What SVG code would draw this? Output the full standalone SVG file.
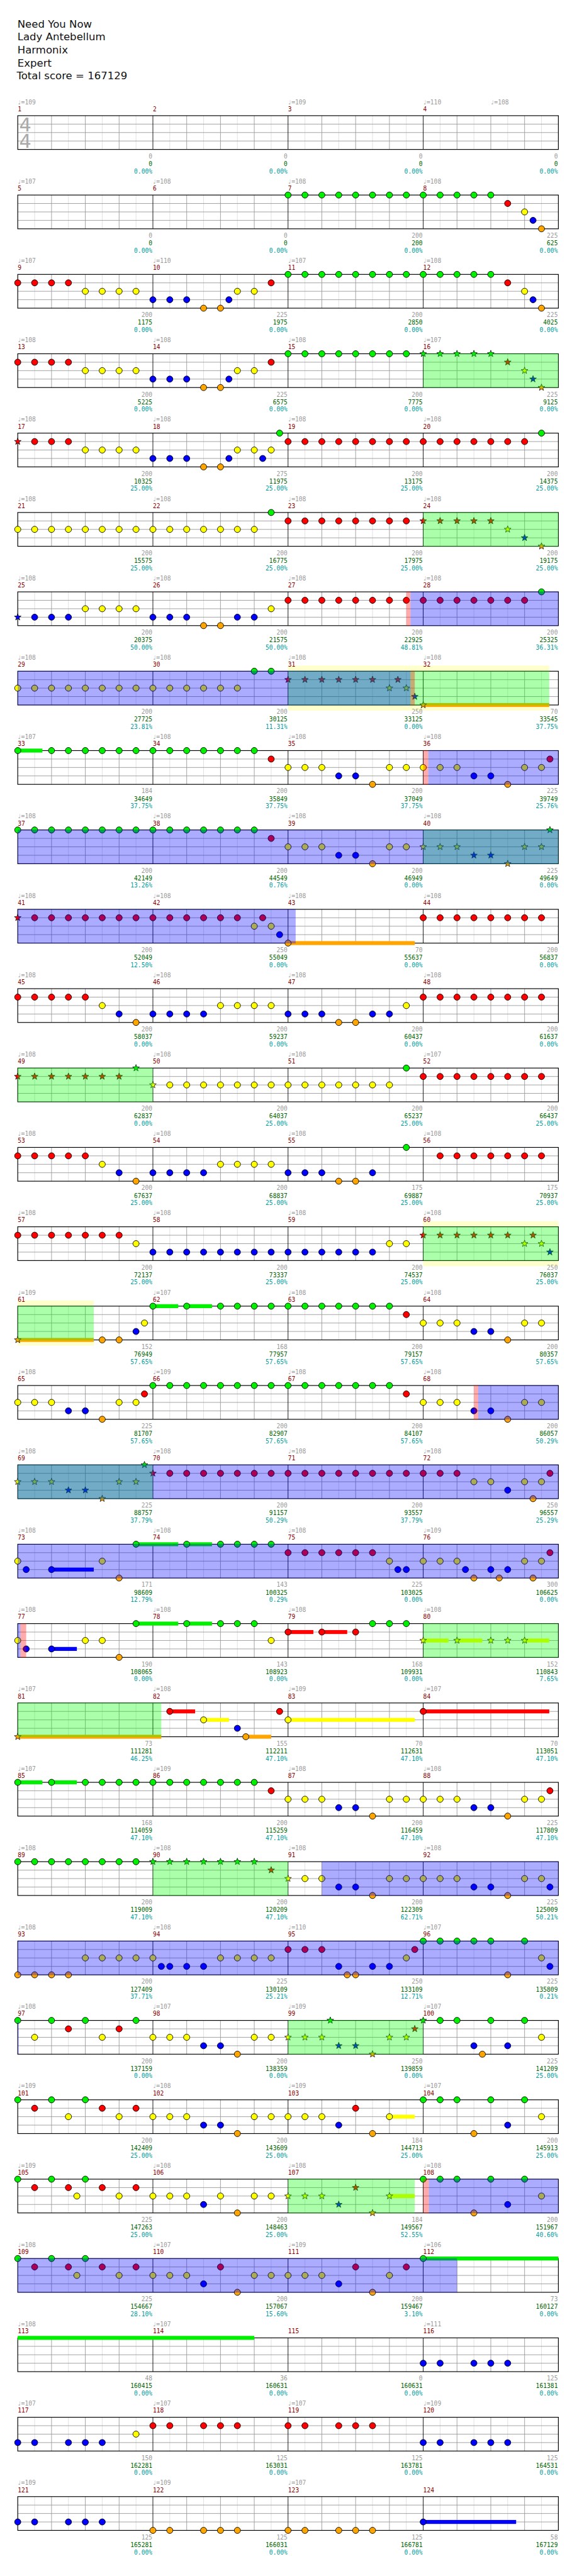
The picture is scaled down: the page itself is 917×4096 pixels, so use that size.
<svg xmlns="http://www.w3.org/2000/svg" width="917" height="4096" viewBox="0 0 917 4096">
<style>
.G{fill:#00f000}.R{fill:#ff0000}.Y{fill:#ffff00}.B{fill:#0000ff}.O{fill:#ffa500}
.nt{stroke:#000;stroke-width:1}.sn{stroke:#000;stroke-width:.8}
.ob{fill:#0000ff;fill-opacity:.33}.og{fill:#00ff00;fill-opacity:.33}.op{fill:#ff0000;fill-opacity:.33}.yb{fill:#ffffcc}
text{font-family:"DejaVu Sans Mono","Liberation Mono",monospace;font-size:10.8px}
.tp{fill:#9a9a9a}.mn{fill:#8b0000}.sg{fill:#9a9a9a;text-anchor:end}.sc{fill:#006400;text-anchor:end}.pc{fill:#009c9c;text-anchor:end}
.ti{font-family:"DejaVu Sans","Liberation Sans",sans-serif;font-size:18.5px;fill:#111}
.ts{font-family:"DejaVu Sans","Liberation Sans",sans-serif;font-size:34px;fill:#aaa}
</style>
<defs>
<g id="staff">
<rect width="960" height="60" fill="#fff"/>
<path d="M30 0V60M90 0V60M150 0V60M210 0V60M270 0V60M330 0V60M390 0V60M450 0V60M510 0V60M570 0V60M630 0V60M690 0V60M750 0V60M810 0V60M870 0V60M930 0V60" stroke="#ddd"/>
<path d="M0 15H960M0 30H960M0 45H960M60 0V60M120 0V60M180 0V60M300 0V60M360 0V60M420 0V60M540 0V60M600 0V60M660 0V60M780 0V60M840 0V60M900 0V60" stroke="#999"/>
<path d="M240 0V60M480 0V60M720 0V60" stroke="#000"/>
<rect width="960" height="60" fill="none" stroke="#000" stroke-width="1.3"/>
</g>
<circle id="g" r="5.5" class="G nt"/>
<circle id="r" cy="15" r="5.5" class="R nt"/>
<circle id="y" cy="30" r="5.5" class="Y nt"/>
<circle id="b" cy="45" r="5.5" class="B nt"/>
<circle id="o" cy="60" r="5.5" class="O nt"/>
<path id="st" d="M0-6.3L1.53-2.1L6-1.95L2.47.8L3.7 5.1L0 2.6L-3.7 5.1L-2.47.8L-6-1.95L-1.53-2.1Z"/>
<use id="sg" href="#st" class="G sn"/>
<use id="sr" href="#st" y="15" class="R sn"/>
<use id="sy" href="#st" y="30" class="Y sn"/>
<use id="sb" href="#st" y="45" class="B sn"/>
<use id="so" href="#st" y="60" class="O sn"/>
</defs>
<g transform="scale(0.895)">
<g id="title">
<text class="ti" x="31" y="49">Need You Now</text>
<text class="ti" x="31" y="72">Lady Antebellum</text>
<text class="ti" x="31" y="95">Harmonix</text>
<text class="ti" x="31" y="118">Expert</text>
<text class="ti" x="29.5" y="141">Total score = 167129</text>
</g>

<g id="row1" transform="translate(31.5,205.5)">
<use href="#staff"/>
<text class="ts" x="2.5" y="27.5">4</text><text class="ts" x="2.5" y="57.5">4</text>
<text class="tp" y="-20.5"><tspan x="-0.5">♩=109</tspan><tspan x="479.5">♩=109</tspan><tspan x="719.5">♩=110</tspan><tspan x="839.5">♩=108</tspan></text>
<text class="mn" y="-8"><tspan x="0">1</tspan><tspan x="240">2</tspan><tspan x="480">3</tspan><tspan x="720">4</tspan></text>
<text class="sg" y="76"><tspan x="239">0</tspan><tspan x="479">0</tspan><tspan x="719">0</tspan><tspan x="959">0</tspan></text>
<text class="sc" y="89.5"><tspan x="239">0</tspan><tspan x="479">0</tspan><tspan x="719">0</tspan><tspan x="959">0</tspan></text>
<text class="pc" y="102.5"><tspan x="239">0.00%</tspan><tspan x="479">0.00%</tspan><tspan x="719">0.00%</tspan><tspan x="959">0.00%</tspan></text>
</g>

<g id="row2" transform="translate(31.5,346.5)">
<use href="#staff"/>
<text class="tp" y="-20.5"><tspan x="-0.5">♩=107</tspan><tspan x="239.5">♩=108</tspan><tspan x="479.5">♩=108</tspan><tspan x="719.5">♩=108</tspan></text>
<text class="mn" y="-8"><tspan x="0">5</tspan><tspan x="240">6</tspan><tspan x="480">7</tspan><tspan x="720">8</tspan></text>
<use href="#g" x="480"/><use href="#g" x="510"/><use href="#g" x="540"/><use href="#g" x="570"/><use href="#g" x="600"/><use href="#g" x="630"/><use href="#g" x="660"/><use href="#g" x="690"/><use href="#g" x="720"/><use href="#g" x="750"/><use href="#g" x="780"/><use href="#g" x="810"/><use href="#g" x="840"/>
<use href="#r" x="870"/><use href="#y" x="900"/><use href="#b" x="915"/><use href="#o" x="930"/>
<text class="sg" y="76"><tspan x="239">0</tspan><tspan x="479">0</tspan><tspan x="719">200</tspan><tspan x="959">225</tspan></text>
<text class="sc" y="89.5"><tspan x="239">0</tspan><tspan x="479">0</tspan><tspan x="719">200</tspan><tspan x="959">625</tspan></text>
<text class="pc" y="102.5"><tspan x="239">0.00%</tspan><tspan x="479">0.00%</tspan><tspan x="719">0.00%</tspan><tspan x="959">0.00%</tspan></text>
</g>

<g id="row3" transform="translate(31.5,487.5)">
<use href="#staff"/>
<text class="tp" y="-20.5"><tspan x="-0.5">♩=107</tspan><tspan x="239.5">♩=110</tspan><tspan x="479.5">♩=107</tspan><tspan x="719.5">♩=108</tspan></text>
<text class="mn" y="-8"><tspan x="0">9</tspan><tspan x="240">10</tspan><tspan x="480">11</tspan><tspan x="720">12</tspan></text>
<use href="#r" x="0"/><use href="#r" x="30"/><use href="#r" x="60"/><use href="#r" x="90"/>
<use href="#y" x="120"/><use href="#y" x="150"/><use href="#y" x="180"/><use href="#y" x="210"/>
<use href="#b" x="240"/><use href="#b" x="270"/><use href="#b" x="300"/><use href="#o" x="330"/><use href="#o" x="360"/><use href="#b" x="375"/>
<use href="#y" x="390"/><use href="#y" x="420"/><use href="#r" x="450"/>
<use href="#g" x="480"/><use href="#g" x="510"/><use href="#g" x="540"/><use href="#g" x="570"/><use href="#g" x="600"/><use href="#g" x="630"/><use href="#g" x="660"/><use href="#g" x="690"/><use href="#g" x="720"/><use href="#g" x="750"/><use href="#g" x="780"/><use href="#g" x="810"/><use href="#g" x="840"/>
<use href="#r" x="870"/><use href="#y" x="900"/><use href="#b" x="915"/><use href="#o" x="930"/>
<text class="sg" y="76"><tspan x="239">200</tspan><tspan x="479">225</tspan><tspan x="719">200</tspan><tspan x="959">225</tspan></text>
<text class="sc" y="89.5"><tspan x="239">1175</tspan><tspan x="479">1975</tspan><tspan x="719">2850</tspan><tspan x="959">4025</tspan></text>
<text class="pc" y="102.5"><tspan x="239">0.00%</tspan><tspan x="479">0.00%</tspan><tspan x="719">0.00%</tspan><tspan x="959">0.00%</tspan></text>
</g>

<g id="row4" transform="translate(31.5,628.5)">
<use href="#staff"/>
<text class="tp" y="-20.5"><tspan x="-0.5">♩=108</tspan><tspan x="239.5">♩=108</tspan><tspan x="479.5">♩=108</tspan><tspan x="719.5">♩=107</tspan></text>
<text class="mn" y="-8"><tspan x="0">13</tspan><tspan x="240">14</tspan><tspan x="480">15</tspan><tspan x="720">16</tspan></text>
<use href="#r" x="0"/><use href="#r" x="30"/><use href="#r" x="60"/><use href="#r" x="90"/>
<use href="#y" x="120"/><use href="#y" x="150"/><use href="#y" x="180"/><use href="#y" x="210"/>
<use href="#b" x="240"/><use href="#b" x="270"/><use href="#b" x="300"/><use href="#o" x="330"/><use href="#o" x="360"/><use href="#b" x="375"/>
<use href="#y" x="390"/><use href="#y" x="420"/><use href="#r" x="450"/>
<use href="#g" x="480"/><use href="#g" x="510"/><use href="#g" x="540"/><use href="#g" x="570"/><use href="#g" x="600"/><use href="#g" x="630"/><use href="#g" x="660"/><use href="#g" x="690"/>
<use href="#sg" x="720"/><use href="#sg" x="750"/><use href="#sg" x="780"/><use href="#sg" x="810"/><use href="#sg" x="840"/>
<use href="#sr" x="870"/><use href="#sy" x="900"/><use href="#sb" x="915"/><use href="#so" x="930"/>
<rect class="og" x="720" y="-0.5" width="240" height="61"/>
<text class="sg" y="76"><tspan x="239">200</tspan><tspan x="479">225</tspan><tspan x="719">200</tspan><tspan x="959">225</tspan></text>
<text class="sc" y="89.5"><tspan x="239">5225</tspan><tspan x="479">6575</tspan><tspan x="719">7775</tspan><tspan x="959">9125</tspan></text>
<text class="pc" y="102.5"><tspan x="239">0.00%</tspan><tspan x="479">0.00%</tspan><tspan x="719">0.00%</tspan><tspan x="959">0.00%</tspan></text>
</g>

<g id="row5" transform="translate(31.5,769.5)">
<use href="#staff"/>
<text class="tp" y="-20.5"><tspan x="-0.5">♩=108</tspan><tspan x="239.5">♩=108</tspan><tspan x="479.5">♩=108</tspan><tspan x="719.5">♩=108</tspan></text>
<text class="mn" y="-8"><tspan x="0">17</tspan><tspan x="240">18</tspan><tspan x="480">19</tspan><tspan x="720">20</tspan></text>
<use href="#sr" x="0"/><use href="#r" x="30"/><use href="#r" x="60"/><use href="#r" x="90"/>
<use href="#y" x="120"/><use href="#y" x="150"/><use href="#y" x="180"/><use href="#y" x="210"/>
<use href="#b" x="240"/><use href="#b" x="270"/><use href="#b" x="300"/><use href="#o" x="330"/><use href="#o" x="360"/><use href="#b" x="375"/>
<use href="#y" x="390"/><use href="#y" x="420"/><use href="#b" x="435"/><use href="#y" x="450"/><use href="#g" x="465"/>
<use href="#r" x="480"/><use href="#r" x="510"/><use href="#r" x="540"/><use href="#r" x="570"/><use href="#r" x="600"/><use href="#r" x="630"/><use href="#r" x="660"/><use href="#r" x="690"/><use href="#r" x="720"/><use href="#r" x="750"/><use href="#r" x="780"/><use href="#r" x="810"/><use href="#r" x="840"/><use href="#r" x="870"/><use href="#r" x="900"/>
<use href="#g" x="930"/>
<text class="sg" y="76"><tspan x="239">200</tspan><tspan x="479">275</tspan><tspan x="719">200</tspan><tspan x="959">200</tspan></text>
<text class="sc" y="89.5"><tspan x="239">10325</tspan><tspan x="479">11975</tspan><tspan x="719">13175</tspan><tspan x="959">14375</tspan></text>
<text class="pc" y="102.5"><tspan x="239">25.00%</tspan><tspan x="479">25.00%</tspan><tspan x="719">25.00%</tspan><tspan x="959">25.00%</tspan></text>
</g>

<g id="row6" transform="translate(31.5,910.5)">
<use href="#staff"/>
<text class="tp" y="-20.5"><tspan x="-0.5">♩=108</tspan><tspan x="239.5">♩=108</tspan><tspan x="479.5">♩=108</tspan><tspan x="719.5">♩=108</tspan></text>
<text class="mn" y="-8"><tspan x="0">21</tspan><tspan x="240">22</tspan><tspan x="480">23</tspan><tspan x="720">24</tspan></text>
<use href="#y" x="0"/><use href="#y" x="30"/><use href="#y" x="60"/><use href="#y" x="90"/><use href="#y" x="120"/><use href="#y" x="150"/><use href="#y" x="180"/><use href="#y" x="210"/><use href="#y" x="240"/><use href="#y" x="270"/><use href="#y" x="300"/><use href="#y" x="330"/><use href="#y" x="360"/><use href="#y" x="390"/><use href="#y" x="420"/>
<use href="#g" x="450"/>
<use href="#r" x="480"/><use href="#r" x="510"/><use href="#r" x="540"/><use href="#r" x="570"/><use href="#r" x="600"/><use href="#r" x="630"/><use href="#r" x="660"/><use href="#r" x="690"/>
<use href="#sr" x="720"/><use href="#sr" x="750"/><use href="#sr" x="780"/><use href="#sr" x="810"/><use href="#sr" x="840"/>
<use href="#sy" x="870"/><use href="#sb" x="900"/><use href="#so" x="930"/>
<rect class="og" x="720" y="-0.5" width="240" height="61"/>
<text class="sg" y="76"><tspan x="239">200</tspan><tspan x="479">200</tspan><tspan x="719">200</tspan><tspan x="959">200</tspan></text>
<text class="sc" y="89.5"><tspan x="239">15575</tspan><tspan x="479">16775</tspan><tspan x="719">17975</tspan><tspan x="959">19175</tspan></text>
<text class="pc" y="102.5"><tspan x="239">25.00%</tspan><tspan x="479">25.00%</tspan><tspan x="719">25.00%</tspan><tspan x="959">25.00%</tspan></text>
</g>

<g id="row7" transform="translate(31.5,1051.5)">
<use href="#staff"/>
<text class="tp" y="-20.5"><tspan x="-0.5">♩=108</tspan><tspan x="239.5">♩=108</tspan><tspan x="479.5">♩=108</tspan><tspan x="719.5">♩=108</tspan></text>
<text class="mn" y="-8"><tspan x="0">25</tspan><tspan x="240">26</tspan><tspan x="480">27</tspan><tspan x="720">28</tspan></text>
<use href="#sb" x="0"/><use href="#b" x="30"/><use href="#b" x="60"/><use href="#b" x="90"/>
<use href="#y" x="120"/><use href="#y" x="150"/><use href="#y" x="180"/><use href="#y" x="210"/>
<use href="#b" x="240"/><use href="#b" x="270"/><use href="#b" x="300"/><use href="#o" x="330"/><use href="#o" x="360"/><use href="#b" x="390"/><use href="#b" x="420"/><use href="#y" x="450"/>
<use href="#r" x="480"/><use href="#r" x="510"/><use href="#r" x="540"/><use href="#r" x="570"/><use href="#r" x="600"/><use href="#r" x="630"/><use href="#r" x="660"/><use href="#r" x="690"/><use href="#r" x="720"/><use href="#r" x="750"/><use href="#r" x="780"/><use href="#r" x="810"/><use href="#r" x="840"/><use href="#r" x="870"/><use href="#r" x="900"/>
<use href="#g" x="930"/>
<rect class="op" x="690" y="-0.5" width="7.5" height="61"/>
<rect class="ob" x="697.5" y="-0.5" width="262.5" height="61"/>
<text class="sg" y="76"><tspan x="239">200</tspan><tspan x="479">200</tspan><tspan x="719">200</tspan><tspan x="959">200</tspan></text>
<text class="sc" y="89.5"><tspan x="239">20375</tspan><tspan x="479">21575</tspan><tspan x="719">22925</tspan><tspan x="959">25325</tspan></text>
<text class="pc" y="102.5"><tspan x="239">50.00%</tspan><tspan x="479">50.00%</tspan><tspan x="719">48.81%</tspan><tspan x="959">36.31%</tspan></text>
</g>

<g id="row8" transform="translate(31.5,1192.5)">
<rect class="yb" x="480" y="-10" width="463.8" height="80"/>
<use href="#staff"/>
<text class="tp" y="-20.5"><tspan x="-0.5">♩=108</tspan><tspan x="239.5">♩=108</tspan><tspan x="479.5">♩=108</tspan><tspan x="719.5">♩=108</tspan></text>
<text class="mn" y="-8"><tspan x="0">29</tspan><tspan x="240">30</tspan><tspan x="480">31</tspan><tspan x="720">32</tspan></text>
<rect class="O" x="720" y="56.5" width="223.8" height="7"/>
<use href="#y" x="0"/><use href="#y" x="30"/><use href="#y" x="60"/><use href="#y" x="90"/><use href="#y" x="120"/><use href="#y" x="150"/><use href="#y" x="180"/><use href="#y" x="210"/><use href="#y" x="240"/><use href="#y" x="270"/><use href="#y" x="300"/><use href="#y" x="330"/><use href="#y" x="360"/><use href="#y" x="390"/>
<use href="#g" x="420"/><use href="#g" x="450"/>
<use href="#sr" x="480"/><use href="#sr" x="510"/><use href="#sr" x="540"/><use href="#sr" x="570"/><use href="#sr" x="600"/><use href="#sr" x="630"/>
<use href="#sy" x="660"/><use href="#sr" x="675"/><use href="#sy" x="690"/><use href="#sb" x="705"/><use href="#so" x="720"/>
<rect class="og" x="480" y="-0.5" width="463.8" height="61"/>
<rect class="ob" x="0" y="-0.5" width="697.5" height="61"/>
<rect class="op" x="697.5" y="-0.5" width="7.5" height="61"/>
<text class="sg" y="76"><tspan x="239">200</tspan><tspan x="479">200</tspan><tspan x="719">250</tspan><tspan x="959">70</tspan></text>
<text class="sc" y="89.5"><tspan x="239">27725</tspan><tspan x="479">30125</tspan><tspan x="719">33125</tspan><tspan x="959">33545</tspan></text>
<text class="pc" y="102.5"><tspan x="239">23.81%</tspan><tspan x="479">11.31%</tspan><tspan x="719">0.00%</tspan><tspan x="959">37.75%</tspan></text>
</g>

<g id="row9" transform="translate(31.5,1333.5)">
<use href="#staff"/>
<text class="tp" y="-20.5"><tspan x="-0.5">♩=107</tspan><tspan x="239.5">♩=108</tspan><tspan x="479.5">♩=108</tspan><tspan x="719.5">♩=108</tspan></text>
<text class="mn" y="-8"><tspan x="0">33</tspan><tspan x="240">34</tspan><tspan x="480">35</tspan><tspan x="720">36</tspan></text>
<rect class="G" x="0" y="-3.5" width="43.8" height="7"/>
<use href="#g" x="0"/><use href="#g" x="60"/><use href="#g" x="90"/><use href="#g" x="120"/><use href="#g" x="150"/><use href="#g" x="180"/><use href="#g" x="210"/><use href="#g" x="240"/><use href="#g" x="270"/><use href="#g" x="300"/><use href="#g" x="330"/><use href="#g" x="360"/><use href="#g" x="390"/><use href="#g" x="420"/>
<use href="#r" x="450"/><use href="#y" x="480"/><use href="#y" x="510"/><use href="#y" x="540"/><use href="#b" x="570"/><use href="#b" x="600"/><use href="#o" x="630"/><use href="#y" x="660"/><use href="#y" x="690"/><use href="#y" x="720"/>
<use href="#y" x="750"/><use href="#y" x="780"/><use href="#b" x="810"/><use href="#b" x="840"/><use href="#o" x="870"/><use href="#y" x="900"/><use href="#y" x="930"/><use href="#r" x="945"/>
<rect class="op" x="720" y="-0.5" width="9" height="61"/>
<rect class="ob" x="729" y="-0.5" width="231" height="61"/>
<text class="sg" y="76"><tspan x="239">184</tspan><tspan x="479">200</tspan><tspan x="719">200</tspan><tspan x="959">225</tspan></text>
<text class="sc" y="89.5"><tspan x="239">34649</tspan><tspan x="479">35849</tspan><tspan x="719">37049</tspan><tspan x="959">39749</tspan></text>
<text class="pc" y="102.5"><tspan x="239">37.75%</tspan><tspan x="479">37.75%</tspan><tspan x="719">37.75%</tspan><tspan x="959">25.76%</tspan></text>
</g>

<g id="row10" transform="translate(31.5,1474.5)">
<use href="#staff"/>
<text class="tp" y="-20.5"><tspan x="-0.5">♩=108</tspan><tspan x="239.5">♩=108</tspan><tspan x="479.5">♩=108</tspan><tspan x="719.5">♩=108</tspan></text>
<text class="mn" y="-8"><tspan x="0">37</tspan><tspan x="240">38</tspan><tspan x="480">39</tspan><tspan x="720">40</tspan></text>
<use href="#g" x="0"/><use href="#g" x="30"/><use href="#g" x="60"/><use href="#g" x="90"/><use href="#g" x="120"/><use href="#g" x="150"/><use href="#g" x="180"/><use href="#g" x="210"/><use href="#g" x="240"/><use href="#g" x="270"/><use href="#g" x="300"/><use href="#g" x="330"/><use href="#g" x="360"/><use href="#g" x="390"/><use href="#g" x="420"/>
<use href="#r" x="450"/><use href="#y" x="480"/><use href="#y" x="510"/><use href="#y" x="540"/><use href="#b" x="570"/><use href="#b" x="600"/><use href="#o" x="630"/><use href="#y" x="660"/><use href="#y" x="690"/>
<use href="#sy" x="720"/><use href="#sy" x="750"/><use href="#sy" x="780"/><use href="#sb" x="810"/><use href="#sb" x="840"/><use href="#so" x="870"/><use href="#sy" x="900"/><use href="#sy" x="930"/><use href="#sg" x="945"/>
<rect class="og" x="720" y="-0.5" width="240" height="61"/>
<rect class="ob" x="0" y="-0.5" width="960" height="61"/>
<text class="sg" y="76"><tspan x="239">200</tspan><tspan x="479">200</tspan><tspan x="719">200</tspan><tspan x="959">225</tspan></text>
<text class="sc" y="89.5"><tspan x="239">42149</tspan><tspan x="479">44549</tspan><tspan x="719">46949</tspan><tspan x="959">49649</tspan></text>
<text class="pc" y="102.5"><tspan x="239">13.26%</tspan><tspan x="479">0.76%</tspan><tspan x="719">0.00%</tspan><tspan x="959">0.00%</tspan></text>
</g>

<g id="row11" transform="translate(31.5,1615.5)">
<use href="#staff"/>
<text class="tp" y="-20.5"><tspan x="-0.5">♩=108</tspan><tspan x="239.5">♩=108</tspan><tspan x="479.5">♩=108</tspan><tspan x="719.5">♩=108</tspan></text>
<text class="mn" y="-8"><tspan x="0">41</tspan><tspan x="240">42</tspan><tspan x="480">43</tspan><tspan x="720">44</tspan></text>
<rect class="O" x="480" y="56.5" width="225" height="7"/>
<use href="#sr" x="0"/><use href="#r" x="30"/><use href="#r" x="60"/><use href="#r" x="90"/><use href="#r" x="120"/><use href="#r" x="150"/><use href="#r" x="180"/><use href="#r" x="210"/><use href="#r" x="240"/><use href="#r" x="270"/><use href="#r" x="300"/><use href="#r" x="330"/><use href="#r" x="360"/><use href="#r" x="390"/>
<use href="#y" x="420"/><use href="#r" x="435"/><use href="#y" x="450"/><use href="#b" x="465"/><use href="#o" x="480"/>
<use href="#r" x="720"/><use href="#r" x="750"/><use href="#r" x="780"/><use href="#r" x="810"/><use href="#r" x="840"/><use href="#r" x="870"/><use href="#r" x="900"/><use href="#r" x="930"/>
<rect class="ob" x="0" y="-0.5" width="493.5" height="61"/>
<text class="sg" y="76"><tspan x="239">200</tspan><tspan x="479">250</tspan><tspan x="719">70</tspan><tspan x="959">200</tspan></text>
<text class="sc" y="89.5"><tspan x="239">52049</tspan><tspan x="479">55049</tspan><tspan x="719">55637</tspan><tspan x="959">56837</tspan></text>
<text class="pc" y="102.5"><tspan x="239">12.50%</tspan><tspan x="479">0.00%</tspan><tspan x="719">0.00%</tspan><tspan x="959">0.00%</tspan></text>
</g>

<g id="row12" transform="translate(31.5,1756.5)">
<use href="#staff"/>
<text class="tp" y="-20.5"><tspan x="-0.5">♩=108</tspan><tspan x="239.5">♩=108</tspan><tspan x="479.5">♩=108</tspan><tspan x="719.5">♩=108</tspan></text>
<text class="mn" y="-8"><tspan x="0">45</tspan><tspan x="240">46</tspan><tspan x="480">47</tspan><tspan x="720">48</tspan></text>
<use href="#r" x="0"/><use href="#r" x="30"/><use href="#r" x="60"/><use href="#r" x="90"/><use href="#r" x="120"/><use href="#y" x="150"/><use href="#b" x="180"/><use href="#o" x="210"/>
<use href="#b" x="240"/><use href="#b" x="270"/><use href="#b" x="300"/><use href="#b" x="330"/><use href="#y" x="360"/><use href="#y" x="390"/><use href="#y" x="420"/><use href="#y" x="450"/>
<use href="#b" x="480"/><use href="#b" x="510"/><use href="#b" x="540"/><use href="#o" x="570"/><use href="#o" x="600"/><use href="#b" x="630"/><use href="#b" x="660"/><use href="#y" x="690"/>
<use href="#r" x="720"/><use href="#r" x="750"/><use href="#r" x="780"/><use href="#r" x="810"/><use href="#r" x="840"/><use href="#r" x="870"/><use href="#r" x="900"/><use href="#r" x="930"/>
<text class="sg" y="76"><tspan x="239">200</tspan><tspan x="479">200</tspan><tspan x="719">200</tspan><tspan x="959">200</tspan></text>
<text class="sc" y="89.5"><tspan x="239">58037</tspan><tspan x="479">59237</tspan><tspan x="719">60437</tspan><tspan x="959">61637</tspan></text>
<text class="pc" y="102.5"><tspan x="239">0.00%</tspan><tspan x="479">0.00%</tspan><tspan x="719">0.00%</tspan><tspan x="959">0.00%</tspan></text>
</g>

<g id="row13" transform="translate(31.5,1897.5)">
<use href="#staff"/>
<text class="tp" y="-20.5"><tspan x="-0.5">♩=108</tspan><tspan x="239.5">♩=108</tspan><tspan x="479.5">♩=108</tspan><tspan x="719.5">♩=107</tspan></text>
<text class="mn" y="-8"><tspan x="0">49</tspan><tspan x="240">50</tspan><tspan x="480">51</tspan><tspan x="720">52</tspan></text>
<use href="#sr" x="0"/><use href="#sr" x="30"/><use href="#sr" x="60"/><use href="#sr" x="90"/><use href="#sr" x="120"/><use href="#sr" x="150"/><use href="#sr" x="180"/><use href="#sg" x="210"/><use href="#sy" x="240"/>
<use href="#y" x="270"/><use href="#y" x="300"/><use href="#y" x="330"/><use href="#y" x="360"/><use href="#y" x="390"/><use href="#y" x="420"/><use href="#y" x="450"/><use href="#y" x="480"/><use href="#y" x="510"/><use href="#y" x="540"/><use href="#y" x="570"/><use href="#y" x="600"/><use href="#y" x="630"/><use href="#y" x="660"/>
<use href="#g" x="690"/>
<use href="#r" x="720"/><use href="#r" x="750"/><use href="#r" x="780"/><use href="#r" x="810"/><use href="#r" x="840"/><use href="#r" x="870"/><use href="#r" x="900"/><use href="#r" x="930"/>
<rect class="og" x="0" y="-0.5" width="240" height="61"/>
<text class="sg" y="76"><tspan x="239">200</tspan><tspan x="479">200</tspan><tspan x="719">200</tspan><tspan x="959">200</tspan></text>
<text class="sc" y="89.5"><tspan x="239">62837</tspan><tspan x="479">64037</tspan><tspan x="719">65237</tspan><tspan x="959">66437</tspan></text>
<text class="pc" y="102.5"><tspan x="239">0.00%</tspan><tspan x="479">25.00%</tspan><tspan x="719">25.00%</tspan><tspan x="959">25.00%</tspan></text>
</g>

<g id="row14" transform="translate(31.5,2038.5)">
<use href="#staff"/>
<text class="tp" y="-20.5"><tspan x="-0.5">♩=108</tspan><tspan x="239.5">♩=108</tspan><tspan x="479.5">♩=108</tspan><tspan x="719.5">♩=108</tspan></text>
<text class="mn" y="-8"><tspan x="0">53</tspan><tspan x="240">54</tspan><tspan x="480">55</tspan><tspan x="720">56</tspan></text>
<use href="#r" x="0"/><use href="#r" x="30"/><use href="#r" x="60"/><use href="#r" x="90"/><use href="#r" x="120"/><use href="#y" x="150"/><use href="#b" x="180"/><use href="#o" x="210"/>
<use href="#b" x="240"/><use href="#b" x="270"/><use href="#b" x="300"/><use href="#b" x="330"/><use href="#y" x="360"/><use href="#y" x="390"/><use href="#y" x="420"/><use href="#y" x="450"/>
<use href="#b" x="480"/><use href="#b" x="510"/><use href="#b" x="540"/><use href="#o" x="570"/><use href="#o" x="600"/><use href="#b" x="630"/><use href="#g" x="690"/>
<use href="#r" x="750"/><use href="#r" x="780"/><use href="#r" x="810"/><use href="#r" x="840"/><use href="#r" x="870"/><use href="#r" x="900"/><use href="#r" x="930"/>
<text class="sg" y="76"><tspan x="239">200</tspan><tspan x="479">200</tspan><tspan x="719">175</tspan><tspan x="959">175</tspan></text>
<text class="sc" y="89.5"><tspan x="239">67637</tspan><tspan x="479">68837</tspan><tspan x="719">69887</tspan><tspan x="959">70937</tspan></text>
<text class="pc" y="102.5"><tspan x="239">25.00%</tspan><tspan x="479">25.00%</tspan><tspan x="719">25.00%</tspan><tspan x="959">25.00%</tspan></text>
</g>

<g id="row15" transform="translate(31.5,2179.5)">
<rect class="yb" x="720" y="-10" width="240" height="80"/>
<use href="#staff"/>
<text class="tp" y="-20.5"><tspan x="-0.5">♩=108</tspan><tspan x="239.5">♩=108</tspan><tspan x="479.5">♩=108</tspan><tspan x="719.5">♩=108</tspan></text>
<text class="mn" y="-8"><tspan x="0">57</tspan><tspan x="240">58</tspan><tspan x="480">59</tspan><tspan x="720">60</tspan></text>
<use href="#r" x="0"/><use href="#r" x="30"/><use href="#r" x="60"/><use href="#r" x="90"/><use href="#r" x="120"/><use href="#r" x="150"/><use href="#r" x="180"/><use href="#y" x="210"/>
<use href="#b" x="240"/><use href="#b" x="270"/><use href="#b" x="300"/><use href="#b" x="330"/><use href="#b" x="360"/><use href="#b" x="390"/><use href="#b" x="420"/><use href="#b" x="450"/><use href="#b" x="480"/><use href="#b" x="510"/><use href="#b" x="540"/><use href="#b" x="570"/><use href="#b" x="600"/><use href="#b" x="630"/>
<use href="#y" x="660"/><use href="#y" x="690"/>
<use href="#sr" x="720"/><use href="#sr" x="750"/><use href="#sr" x="780"/><use href="#sr" x="810"/><use href="#sr" x="840"/><use href="#sr" x="870"/><use href="#sy" x="900"/><use href="#sr" x="915"/><use href="#sy" x="930"/><use href="#sb" x="945"/>
<rect class="og" x="720" y="-0.5" width="240" height="61"/>
<text class="sg" y="76"><tspan x="239">200</tspan><tspan x="479">200</tspan><tspan x="719">200</tspan><tspan x="959">250</tspan></text>
<text class="sc" y="89.5"><tspan x="239">72137</tspan><tspan x="479">73337</tspan><tspan x="719">74537</tspan><tspan x="959">76037</tspan></text>
<text class="pc" y="102.5"><tspan x="239">25.00%</tspan><tspan x="479">25.00%</tspan><tspan x="719">25.00%</tspan><tspan x="959">25.00%</tspan></text>
</g>

<g id="row16" transform="translate(31.5,2320.5)">
<rect class="yb" x="0" y="-10" width="135" height="80"/>
<use href="#staff"/>
<text class="tp" y="-20.5"><tspan x="-0.5">♩=109</tspan><tspan x="239.5">♩=107</tspan><tspan x="479.5">♩=108</tspan><tspan x="719.5">♩=108</tspan></text>
<text class="mn" y="-8"><tspan x="0">61</tspan><tspan x="240">62</tspan><tspan x="480">63</tspan><tspan x="720">64</tspan></text>
<rect class="O" x="0" y="56.5" width="135" height="7"/>
<rect class="G" x="240" y="-3.5" width="45" height="7"/><rect class="G" x="300" y="-3.5" width="45" height="7"/>
<use href="#so" x="0"/><use href="#o" x="150"/><use href="#o" x="180"/><use href="#b" x="210"/><use href="#y" x="225"/>
<use href="#g" x="240"/><use href="#g" x="300"/><use href="#g" x="360"/><use href="#g" x="390"/><use href="#g" x="420"/><use href="#g" x="450"/><use href="#g" x="480"/><use href="#g" x="510"/><use href="#g" x="540"/><use href="#g" x="570"/><use href="#g" x="600"/><use href="#g" x="630"/><use href="#g" x="660"/>
<use href="#r" x="690"/><use href="#y" x="720"/><use href="#y" x="750"/><use href="#y" x="780"/><use href="#b" x="810"/><use href="#b" x="840"/><use href="#o" x="870"/><use href="#y" x="900"/><use href="#y" x="930"/>
<rect class="og" x="0" y="-0.5" width="135" height="61"/>
<text class="sg" y="76"><tspan x="239">152</tspan><tspan x="479">168</tspan><tspan x="719">200</tspan><tspan x="959">200</tspan></text>
<text class="sc" y="89.5"><tspan x="239">76949</tspan><tspan x="479">77957</tspan><tspan x="719">79157</tspan><tspan x="959">80357</tspan></text>
<text class="pc" y="102.5"><tspan x="239">57.65%</tspan><tspan x="479">57.65%</tspan><tspan x="719">57.65%</tspan><tspan x="959">57.65%</tspan></text>
</g>

<g id="row17" transform="translate(31.5,2461.5)">
<use href="#staff"/>
<text class="tp" y="-20.5"><tspan x="-0.5">♩=108</tspan><tspan x="239.5">♩=109</tspan><tspan x="479.5">♩=108</tspan><tspan x="719.5">♩=108</tspan></text>
<text class="mn" y="-8"><tspan x="0">65</tspan><tspan x="240">66</tspan><tspan x="480">67</tspan><tspan x="720">68</tspan></text>
<use href="#y" x="0"/><use href="#y" x="30"/><use href="#y" x="60"/><use href="#b" x="90"/><use href="#b" x="120"/><use href="#o" x="150"/><use href="#y" x="180"/><use href="#y" x="210"/><use href="#r" x="225"/>
<use href="#g" x="240"/><use href="#g" x="270"/><use href="#g" x="300"/><use href="#g" x="330"/><use href="#g" x="360"/><use href="#g" x="390"/><use href="#g" x="420"/><use href="#g" x="450"/><use href="#g" x="480"/><use href="#g" x="510"/><use href="#g" x="540"/><use href="#g" x="570"/><use href="#g" x="600"/><use href="#g" x="630"/><use href="#g" x="660"/>
<use href="#r" x="690"/><use href="#y" x="720"/><use href="#y" x="750"/><use href="#y" x="780"/><use href="#b" x="810"/><use href="#b" x="840"/><use href="#o" x="870"/><use href="#y" x="900"/><use href="#y" x="930"/>
<rect class="op" x="810" y="-0.5" width="7.5" height="61"/>
<rect class="ob" x="817.5" y="-0.5" width="142.5" height="61"/>
<text class="sg" y="76"><tspan x="239">225</tspan><tspan x="479">200</tspan><tspan x="719">200</tspan><tspan x="959">200</tspan></text>
<text class="sc" y="89.5"><tspan x="239">81707</tspan><tspan x="479">82907</tspan><tspan x="719">84107</tspan><tspan x="959">86057</tspan></text>
<text class="pc" y="102.5"><tspan x="239">57.65%</tspan><tspan x="479">57.65%</tspan><tspan x="719">57.65%</tspan><tspan x="959">50.29%</tspan></text>
</g>

<g id="row18" transform="translate(31.5,2602.5)">
<use href="#staff"/>
<text class="tp" y="-20.5"><tspan x="-0.5">♩=108</tspan><tspan x="239.5">♩=108</tspan><tspan x="479.5">♩=108</tspan><tspan x="719.5">♩=108</tspan></text>
<text class="mn" y="-8"><tspan x="0">69</tspan><tspan x="240">70</tspan><tspan x="480">71</tspan><tspan x="720">72</tspan></text>
<use href="#sy" x="0"/><use href="#sy" x="30"/><use href="#sy" x="60"/><use href="#sb" x="90"/><use href="#sb" x="120"/><use href="#so" x="150"/><use href="#sy" x="180"/><use href="#sy" x="210"/><use href="#sg" x="225"/><use href="#sr" x="240"/>
<use href="#r" x="270"/><use href="#r" x="300"/><use href="#r" x="330"/><use href="#r" x="360"/><use href="#r" x="390"/><use href="#r" x="420"/><use href="#r" x="450"/><use href="#r" x="480"/><use href="#r" x="510"/><use href="#r" x="540"/><use href="#r" x="570"/><use href="#r" x="600"/><use href="#r" x="630"/><use href="#r" x="660"/><use href="#r" x="690"/><use href="#r" x="720"/><use href="#r" x="750"/><use href="#r" x="780"/>
<use href="#y" x="810"/><use href="#y" x="840"/><use href="#b" x="870"/><use href="#y" x="900"/><use href="#o" x="915"/><use href="#y" x="930"/><use href="#r" x="945"/>
<rect class="og" x="0" y="-0.5" width="240" height="61"/>
<rect class="ob" x="0" y="-0.5" width="960" height="61"/>
<text class="sg" y="76"><tspan x="239">225</tspan><tspan x="479">200</tspan><tspan x="719">200</tspan><tspan x="959">250</tspan></text>
<text class="sc" y="89.5"><tspan x="239">88757</tspan><tspan x="479">91157</tspan><tspan x="719">93557</tspan><tspan x="959">96557</tspan></text>
<text class="pc" y="102.5"><tspan x="239">37.79%</tspan><tspan x="479">50.29%</tspan><tspan x="719">37.79%</tspan><tspan x="959">25.29%</tspan></text>
</g>

<g id="row19" transform="translate(31.5,2743.5)">
<use href="#staff"/>
<text class="tp" y="-20.5"><tspan x="-0.5">♩=108</tspan><tspan x="239.5">♩=108</tspan><tspan x="479.5">♩=108</tspan><tspan x="719.5">♩=109</tspan></text>
<text class="mn" y="-8"><tspan x="0">73</tspan><tspan x="240">74</tspan><tspan x="480">75</tspan><tspan x="720">76</tspan></text>
<rect class="B" x="60" y="41.5" width="75" height="7"/>
<rect class="G" x="210" y="-3.5" width="75" height="7"/><rect class="G" x="300" y="-3.5" width="45" height="7"/>
<use href="#y" x="0"/><use href="#b" x="15"/><use href="#b" x="60"/><use href="#y" x="150"/><use href="#o" x="180"/>
<use href="#g" x="210"/><use href="#g" x="300"/><use href="#g" x="360"/><use href="#g" x="390"/><use href="#g" x="420"/><use href="#g" x="450"/>
<use href="#r" x="480"/><use href="#r" x="510"/><use href="#r" x="540"/><use href="#r" x="570"/><use href="#r" x="600"/><use href="#r" x="630"/>
<use href="#y" x="660"/><use href="#b" x="675"/><use href="#b" x="690"/><use href="#y" x="720"/><use href="#y" x="750"/><use href="#y" x="780"/><use href="#b" x="795"/><use href="#o" x="810"/><use href="#b" x="840"/><use href="#o" x="855"/><use href="#b" x="870"/><use href="#y" x="900"/><use href="#o" x="915"/><use href="#y" x="930"/><use href="#r" x="945"/>
<rect class="ob" x="0" y="-0.5" width="960" height="61"/>
<text class="sg" y="76"><tspan x="239">171</tspan><tspan x="479">143</tspan><tspan x="719">225</tspan><tspan x="959">300</tspan></text>
<text class="sc" y="89.5"><tspan x="239">98609</tspan><tspan x="479">100325</tspan><tspan x="719">103025</tspan><tspan x="959">106625</tspan></text>
<text class="pc" y="102.5"><tspan x="239">12.79%</tspan><tspan x="479">0.29%</tspan><tspan x="719">0.00%</tspan><tspan x="959">0.00%</tspan></text>
</g>

<g id="row20" transform="translate(31.5,2884.5)">
<use href="#staff"/>
<text class="tp" y="-20.5"><tspan x="-0.5">♩=108</tspan><tspan x="239.5">♩=108</tspan><tspan x="479.5">♩=108</tspan><tspan x="719.5">♩=108</tspan></text>
<text class="mn" y="-8"><tspan x="0">77</tspan><tspan x="240">78</tspan><tspan x="480">79</tspan><tspan x="720">80</tspan></text>
<rect class="B" x="60" y="41.5" width="45" height="7"/>
<rect class="G" x="210" y="-3.5" width="75" height="7"/><rect class="G" x="300" y="-3.5" width="45" height="7"/>
<rect class="R" x="480" y="11.5" width="45" height="7"/><rect class="R" x="540" y="11.5" width="45" height="7"/>
<rect class="Y" x="720" y="26.5" width="45" height="7"/><rect class="Y" x="780" y="26.5" width="45" height="7"/><rect class="Y" x="900" y="26.5" width="43.8" height="7"/>
<use href="#y" x="0"/><use href="#b" x="15"/><use href="#b" x="60"/><use href="#y" x="120"/><use href="#y" x="150"/><use href="#o" x="180"/>
<use href="#g" x="210"/><use href="#g" x="300"/><use href="#g" x="360"/><use href="#g" x="390"/><use href="#g" x="420"/><use href="#y" x="450"/>
<use href="#r" x="480"/><use href="#r" x="540"/><use href="#r" x="600"/><use href="#g" x="630"/><use href="#g" x="660"/><use href="#g" x="690"/>
<use href="#sy" x="720"/><use href="#sy" x="780"/><use href="#sy" x="840"/><use href="#sy" x="870"/><use href="#sy" x="900"/>
<rect class="ob" x="0" y="-0.5" width="5" height="61"/>
<rect class="op" x="5" y="-0.5" width="10" height="61"/>
<rect class="og" x="720" y="-0.5" width="240" height="61"/>
<text class="sg" y="76"><tspan x="239">190</tspan><tspan x="479">143</tspan><tspan x="719">168</tspan><tspan x="959">152</tspan></text>
<text class="sc" y="89.5"><tspan x="239">108065</tspan><tspan x="479">108923</tspan><tspan x="719">109931</tspan><tspan x="959">110843</tspan></text>
<text class="pc" y="102.5"><tspan x="239">0.00%</tspan><tspan x="479">0.00%</tspan><tspan x="719">0.00%</tspan><tspan x="959">7.65%</tspan></text>
</g>

<g id="row21" transform="translate(31.5,3025.5)">
<use href="#staff"/>
<text class="tp" y="-20.5"><tspan x="-0.5">♩=107</tspan><tspan x="239.5">♩=108</tspan><tspan x="479.5">♩=109</tspan><tspan x="719.5">♩=107</tspan></text>
<text class="mn" y="-8"><tspan x="0">81</tspan><tspan x="240">82</tspan><tspan x="480">83</tspan><tspan x="720">84</tspan></text>
<rect class="O" x="0" y="56.5" width="255" height="7"/>
<rect class="R" x="270" y="11.5" width="45" height="7"/>
<rect class="Y" x="330" y="26.5" width="45" height="7"/>
<rect class="O" x="405" y="56.5" width="45" height="7"/>
<rect class="Y" x="480" y="26.5" width="225" height="7"/>
<rect class="R" x="720" y="11.5" width="223.8" height="7"/>
<use href="#so" x="0"/><use href="#r" x="270"/><use href="#y" x="330"/><use href="#b" x="390"/><use href="#o" x="405"/><use href="#r" x="465"/><use href="#y" x="480"/><use href="#r" x="720"/>
<rect class="og" x="0" y="-0.5" width="255" height="61"/>
<text class="sg" y="76"><tspan x="239">73</tspan><tspan x="479">155</tspan><tspan x="719">70</tspan><tspan x="959">70</tspan></text>
<text class="sc" y="89.5"><tspan x="239">111281</tspan><tspan x="479">112211</tspan><tspan x="719">112631</tspan><tspan x="959">113051</tspan></text>
<text class="pc" y="102.5"><tspan x="239">46.25%</tspan><tspan x="479">47.10%</tspan><tspan x="719">47.10%</tspan><tspan x="959">47.10%</tspan></text>
</g>

<g id="row22" transform="translate(31.5,3166.5)">
<use href="#staff"/>
<text class="tp" y="-20.5"><tspan x="-0.5">♩=107</tspan><tspan x="239.5">♩=109</tspan><tspan x="479.5">♩=108</tspan><tspan x="719.5">♩=108</tspan></text>
<text class="mn" y="-8"><tspan x="0">85</tspan><tspan x="240">86</tspan><tspan x="480">87</tspan><tspan x="720">88</tspan></text>
<rect class="G" x="0" y="-3.5" width="43.8" height="7"/><rect class="G" x="60" y="-3.5" width="45" height="7"/>
<use href="#g" x="0"/><use href="#g" x="60"/><use href="#g" x="120"/><use href="#g" x="150"/><use href="#g" x="180"/><use href="#g" x="210"/><use href="#g" x="240"/><use href="#g" x="270"/><use href="#g" x="300"/><use href="#g" x="330"/><use href="#g" x="360"/><use href="#g" x="390"/><use href="#g" x="420"/>
<use href="#r" x="450"/><use href="#y" x="480"/><use href="#y" x="510"/><use href="#y" x="540"/><use href="#b" x="570"/><use href="#b" x="600"/><use href="#o" x="630"/>
<use href="#y" x="660"/><use href="#y" x="690"/><use href="#y" x="720"/><use href="#y" x="750"/><use href="#y" x="780"/><use href="#b" x="810"/><use href="#b" x="840"/><use href="#o" x="870"/><use href="#y" x="900"/><use href="#y" x="930"/><use href="#r" x="945"/>
<text class="sg" y="76"><tspan x="239">168</tspan><tspan x="479">200</tspan><tspan x="719">200</tspan><tspan x="959">225</tspan></text>
<text class="sc" y="89.5"><tspan x="239">114059</tspan><tspan x="479">115259</tspan><tspan x="719">116459</tspan><tspan x="959">117809</tspan></text>
<text class="pc" y="102.5"><tspan x="239">47.10%</tspan><tspan x="479">47.10%</tspan><tspan x="719">47.10%</tspan><tspan x="959">47.10%</tspan></text>
</g>

<g id="row23" transform="translate(31.5,3307.5)">
<use href="#staff"/>
<text class="tp" y="-20.5"><tspan x="-0.5">♩=108</tspan><tspan x="239.5">♩=108</tspan><tspan x="479.5">♩=108</tspan><tspan x="719.5">♩=108</tspan></text>
<text class="mn" y="-8"><tspan x="0">89</tspan><tspan x="240">90</tspan><tspan x="480">91</tspan><tspan x="720">92</tspan></text>
<use href="#g" x="0"/><use href="#g" x="30"/><use href="#g" x="60"/><use href="#g" x="90"/><use href="#g" x="120"/><use href="#g" x="150"/><use href="#g" x="180"/><use href="#g" x="210"/>
<use href="#sg" x="240"/><use href="#sg" x="270"/><use href="#sg" x="300"/><use href="#sg" x="330"/><use href="#sg" x="360"/><use href="#sg" x="390"/><use href="#sg" x="420"/><use href="#sr" x="450"/><use href="#sy" x="480"/>
<use href="#y" x="510"/><use href="#y" x="540"/><use href="#b" x="570"/><use href="#b" x="600"/><use href="#o" x="630"/>
<use href="#y" x="660"/><use href="#y" x="690"/><use href="#y" x="720"/><use href="#y" x="750"/><use href="#y" x="780"/><use href="#b" x="810"/><use href="#b" x="840"/><use href="#o" x="870"/><use href="#y" x="900"/><use href="#y" x="930"/><use href="#b" x="945"/>
<rect class="og" x="240" y="-0.5" width="240" height="61"/>
<rect class="ob" x="540" y="-0.5" width="420" height="61"/>
<text class="sg" y="76"><tspan x="239">200</tspan><tspan x="479">200</tspan><tspan x="719">200</tspan><tspan x="959">225</tspan></text>
<text class="sc" y="89.5"><tspan x="239">119009</tspan><tspan x="479">120209</tspan><tspan x="719">122309</tspan><tspan x="959">125009</tspan></text>
<text class="pc" y="102.5"><tspan x="239">47.10%</tspan><tspan x="479">47.10%</tspan><tspan x="719">62.71%</tspan><tspan x="959">50.21%</tspan></text>
</g>

<g id="row24" transform="translate(31.5,3448.5)">
<use href="#staff"/>
<text class="tp" y="-20.5"><tspan x="-0.5">♩=108</tspan><tspan x="239.5">♩=108</tspan><tspan x="479.5">♩=110</tspan><tspan x="719.5">♩=107</tspan></text>
<text class="mn" y="-8"><tspan x="0">93</tspan><tspan x="240">94</tspan><tspan x="480">95</tspan><tspan x="720">96</tspan></text>
<use href="#o" x="0"/><use href="#o" x="30"/><use href="#o" x="60"/><use href="#o" x="90"/>
<use href="#y" x="120"/><use href="#y" x="150"/><use href="#y" x="180"/><use href="#y" x="210"/><use href="#y" x="240"/>
<use href="#b" x="255"/><use href="#b" x="270"/><use href="#b" x="300"/><use href="#b" x="330"/>
<use href="#y" x="360"/><use href="#y" x="390"/><use href="#y" x="420"/><use href="#y" x="450"/>
<use href="#r" x="480"/><use href="#r" x="510"/><use href="#r" x="540"/><use href="#b" x="570"/><use href="#o" x="585"/><use href="#o" x="600"/><use href="#b" x="630"/><use href="#b" x="660"/><use href="#y" x="690"/><use href="#r" x="705"/>
<use href="#g" x="720"/><use href="#g" x="750"/><use href="#g" x="780"/><use href="#g" x="810"/><use href="#g" x="840"/><use href="#o" x="870"/><use href="#g" x="900"/><use href="#y" x="930"/><use href="#b" x="945"/>
<rect class="ob" x="0" y="-0.5" width="960" height="61"/>
<text class="sg" y="76"><tspan x="239">200</tspan><tspan x="479">225</tspan><tspan x="719">250</tspan><tspan x="959">225</tspan></text>
<text class="sc" y="89.5"><tspan x="239">127409</tspan><tspan x="479">130109</tspan><tspan x="719">133109</tspan><tspan x="959">135809</tspan></text>
<text class="pc" y="102.5"><tspan x="239">37.71%</tspan><tspan x="479">25.21%</tspan><tspan x="719">12.71%</tspan><tspan x="959">0.21%</tspan></text>
</g>

<g id="row25" transform="translate(31.5,3589.5)">
<use href="#staff"/>
<text class="tp" y="-20.5"><tspan x="-0.5">♩=108</tspan><tspan x="239.5">♩=107</tspan><tspan x="479.5">♩=109</tspan><tspan x="719.5">♩=107</tspan></text>
<text class="mn" y="-8"><tspan x="0">97</tspan><tspan x="240">98</tspan><tspan x="480">99</tspan><tspan x="720">100</tspan></text>
<use href="#g" x="0"/><use href="#y" x="30"/><use href="#g" x="60"/><use href="#r" x="90"/><use href="#g" x="120"/><use href="#y" x="150"/><use href="#r" x="180"/><use href="#g" x="210"/>
<use href="#y" x="240"/><use href="#y" x="270"/><use href="#y" x="300"/><use href="#b" x="330"/><use href="#b" x="360"/><use href="#o" x="390"/><use href="#y" x="420"/><use href="#y" x="450"/>
<use href="#sy" x="480"/><use href="#sy" x="510"/><use href="#sy" x="540"/><use href="#sg" x="555"/><use href="#sb" x="570"/><use href="#sb" x="600"/><use href="#so" x="630"/><use href="#sy" x="660"/><use href="#sy" x="690"/><use href="#sr" x="705"/><use href="#sg" x="720"/>
<use href="#g" x="750"/><use href="#g" x="780"/><use href="#b" x="810"/><use href="#o" x="825"/><use href="#g" x="840"/><use href="#b" x="870"/><use href="#g" x="900"/><use href="#y" x="930"/>
<rect class="ob" x="0" y="-0.5" width="1.5" height="61"/>
<rect class="og" x="480" y="-0.5" width="240" height="61"/>
<text class="sg" y="76"><tspan x="239">200</tspan><tspan x="479">200</tspan><tspan x="719">250</tspan><tspan x="959">225</tspan></text>
<text class="sc" y="89.5"><tspan x="239">137159</tspan><tspan x="479">138359</tspan><tspan x="719">139859</tspan><tspan x="959">141209</tspan></text>
<text class="pc" y="102.5"><tspan x="239">0.00%</tspan><tspan x="479">0.00%</tspan><tspan x="719">0.00%</tspan><tspan x="959">25.00%</tspan></text>
</g>

<g id="row26" transform="translate(31.5,3730.5)">
<use href="#staff"/>
<text class="tp" y="-20.5"><tspan x="-0.5">♩=109</tspan><tspan x="239.5">♩=108</tspan><tspan x="479.5">♩=109</tspan><tspan x="719.5">♩=107</tspan></text>
<text class="mn" y="-8"><tspan x="0">101</tspan><tspan x="240">102</tspan><tspan x="480">103</tspan><tspan x="720">104</tspan></text>
<rect class="Y" x="660" y="26.5" width="45" height="7"/>
<use href="#g" x="0"/><use href="#r" x="30"/><use href="#g" x="60"/><use href="#y" x="90"/><use href="#g" x="120"/><use href="#r" x="150"/><use href="#y" x="180"/><use href="#r" x="210"/>
<use href="#y" x="240"/><use href="#y" x="270"/><use href="#y" x="300"/><use href="#b" x="330"/><use href="#b" x="360"/><use href="#o" x="390"/>
<use href="#y" x="420"/><use href="#y" x="450"/><use href="#y" x="480"/><use href="#y" x="510"/><use href="#y" x="540"/><use href="#b" x="570"/><use href="#r" x="600"/><use href="#o" x="630"/><use href="#y" x="660"/>
<use href="#g" x="720"/><use href="#g" x="750"/><use href="#g" x="780"/><use href="#o" x="810"/><use href="#g" x="840"/><use href="#b" x="870"/><use href="#g" x="900"/><use href="#y" x="930"/>
<text class="sg" y="76"><tspan x="239">200</tspan><tspan x="479">200</tspan><tspan x="719">184</tspan><tspan x="959">200</tspan></text>
<text class="sc" y="89.5"><tspan x="239">142409</tspan><tspan x="479">143609</tspan><tspan x="719">144713</tspan><tspan x="959">145913</tspan></text>
<text class="pc" y="102.5"><tspan x="239">25.00%</tspan><tspan x="479">25.00%</tspan><tspan x="719">25.00%</tspan><tspan x="959">25.00%</tspan></text>
</g>

<g id="row27" transform="translate(31.5,3871.5)">
<use href="#staff"/>
<text class="tp" y="-20.5"><tspan x="-0.5">♩=109</tspan><tspan x="239.5">♩=108</tspan><tspan x="479.5">♩=108</tspan><tspan x="719.5">♩=108</tspan></text>
<text class="mn" y="-8"><tspan x="0">105</tspan><tspan x="240">106</tspan><tspan x="480">107</tspan><tspan x="720">108</tspan></text>
<rect class="Y" x="660" y="26.5" width="45" height="7"/>
<use href="#g" x="0"/><use href="#r" x="30"/><use href="#g" x="60"/><use href="#r" x="90"/><use href="#y" x="105"/><use href="#g" x="120"/><use href="#r" x="150"/><use href="#y" x="180"/><use href="#r" x="210"/>
<use href="#y" x="240"/><use href="#y" x="270"/><use href="#y" x="300"/><use href="#b" x="330"/><use href="#y" x="360"/><use href="#o" x="390"/><use href="#y" x="420"/><use href="#y" x="450"/>
<use href="#sy" x="480"/><use href="#sy" x="510"/><use href="#sy" x="540"/><use href="#sb" x="570"/><use href="#sr" x="600"/><use href="#so" x="630"/><use href="#sy" x="660"/>
<use href="#g" x="720"/><use href="#g" x="750"/><use href="#g" x="780"/><use href="#o" x="810"/><use href="#g" x="840"/><use href="#b" x="870"/><use href="#g" x="900"/><use href="#y" x="930"/>
<rect class="og" x="480" y="-0.5" width="225" height="61"/>
<rect class="op" x="720" y="-0.5" width="10" height="61"/>
<rect class="ob" x="730" y="-0.5" width="230" height="61"/>
<text class="sg" y="76"><tspan x="239">225</tspan><tspan x="479">200</tspan><tspan x="719">184</tspan><tspan x="959">200</tspan></text>
<text class="sc" y="89.5"><tspan x="239">147263</tspan><tspan x="479">148463</tspan><tspan x="719">149567</tspan><tspan x="959">151967</tspan></text>
<text class="pc" y="102.5"><tspan x="239">25.00%</tspan><tspan x="479">25.00%</tspan><tspan x="719">52.55%</tspan><tspan x="959">40.60%</tspan></text>
</g>

<g id="row28" transform="translate(31.5,4012.5)">
<use href="#staff"/>
<text class="tp" y="-20.5"><tspan x="-0.5">♩=108</tspan><tspan x="239.5">♩=107</tspan><tspan x="479.5">♩=109</tspan><tspan x="719.5">♩=106</tspan></text>
<text class="mn" y="-8"><tspan x="0">109</tspan><tspan x="240">110</tspan><tspan x="480">111</tspan><tspan x="720">112</tspan></text>
<rect class="G" x="720" y="-3.5" width="240" height="7"/>
<use href="#g" x="0"/><use href="#r" x="30"/><use href="#g" x="60"/><use href="#r" x="90"/><use href="#y" x="105"/><use href="#g" x="120"/><use href="#r" x="150"/><use href="#y" x="180"/><use href="#r" x="210"/>
<use href="#y" x="240"/><use href="#y" x="270"/><use href="#y" x="300"/><use href="#b" x="330"/><use href="#r" x="360"/><use href="#o" x="390"/>
<use href="#y" x="420"/><use href="#y" x="450"/><use href="#y" x="480"/><use href="#y" x="510"/><use href="#y" x="540"/><use href="#b" x="570"/><use href="#r" x="600"/><use href="#o" x="630"/><use href="#y" x="660"/><use href="#r" x="690"/><use href="#g" x="720"/>
<rect class="ob" x="0" y="-0.5" width="780" height="61"/>
<text class="sg" y="76"><tspan x="239">225</tspan><tspan x="479">200</tspan><tspan x="719">200</tspan><tspan x="959">73</tspan></text>
<text class="sc" y="89.5"><tspan x="239">154667</tspan><tspan x="479">157067</tspan><tspan x="719">159467</tspan><tspan x="959">160127</tspan></text>
<text class="pc" y="102.5"><tspan x="239">28.10%</tspan><tspan x="479">15.60%</tspan><tspan x="719">3.10%</tspan><tspan x="959">0.00%</tspan></text>
</g>

<g id="row29" transform="translate(31.5,4153.5)">
<use href="#staff"/>
<text class="tp" y="-20.5"><tspan x="-0.5">♩=108</tspan><tspan x="239.5">♩=107</tspan><tspan x="719.5">♩=111</tspan></text>
<text class="mn" y="-8"><tspan x="0">113</tspan><tspan x="240">114</tspan><tspan x="480">115</tspan><tspan x="720">116</tspan></text>
<rect class="G" x="0" y="-3.5" width="420" height="7"/>
<use href="#b" x="720"/><use href="#b" x="750"/><use href="#b" x="810"/><use href="#b" x="840"/><use href="#b" x="870"/>
<text class="sg" y="76"><tspan x="239">48</tspan><tspan x="479">36</tspan><tspan x="719">0</tspan><tspan x="959">125</tspan></text>
<text class="sc" y="89.5"><tspan x="239">160415</tspan><tspan x="479">160631</tspan><tspan x="719">160631</tspan><tspan x="959">161381</tspan></text>
<text class="pc" y="102.5"><tspan x="239">0.00%</tspan><tspan x="479">0.00%</tspan><tspan x="719">0.00%</tspan><tspan x="959">0.00%</tspan></text>
</g>

<g id="row30" transform="translate(31.5,4294.5)">
<use href="#staff"/>
<text class="tp" y="-20.5"><tspan x="-0.5">♩=107</tspan><tspan x="239.5">♩=107</tspan><tspan x="479.5">♩=107</tspan><tspan x="719.5">♩=109</tspan></text>
<text class="mn" y="-8"><tspan x="0">117</tspan><tspan x="240">118</tspan><tspan x="480">119</tspan><tspan x="720">120</tspan></text>
<use href="#b" x="0"/><use href="#b" x="30"/><use href="#b" x="90"/><use href="#b" x="120"/><use href="#b" x="150"/><use href="#y" x="210"/>
<use href="#r" x="240"/><use href="#r" x="270"/><use href="#r" x="330"/><use href="#r" x="360"/><use href="#r" x="390"/><use href="#r" x="480"/><use href="#r" x="510"/><use href="#r" x="570"/><use href="#r" x="600"/><use href="#r" x="630"/>
<use href="#b" x="720"/><use href="#b" x="750"/><use href="#b" x="810"/><use href="#b" x="840"/><use href="#b" x="870"/>
<text class="sg" y="76"><tspan x="239">150</tspan><tspan x="479">125</tspan><tspan x="719">125</tspan><tspan x="959">125</tspan></text>
<text class="sc" y="89.5"><tspan x="239">162281</tspan><tspan x="479">163031</tspan><tspan x="719">163781</tspan><tspan x="959">164531</tspan></text>
<text class="pc" y="102.5"><tspan x="239">0.00%</tspan><tspan x="479">0.00%</tspan><tspan x="719">0.00%</tspan><tspan x="959">0.00%</tspan></text>
</g>

<g id="row31" transform="translate(31.5,4435.5)">
<use href="#staff"/>
<text class="tp" y="-20.5"><tspan x="-0.5">♩=109</tspan><tspan x="239.5">♩=109</tspan><tspan x="479.5">♩=107</tspan></text>
<text class="mn" y="-8"><tspan x="0">121</tspan><tspan x="240">122</tspan><tspan x="480">123</tspan><tspan x="720">124</tspan></text>
<rect class="B" x="720" y="41.5" width="165" height="7"/>
<use href="#b" x="0"/><use href="#b" x="30"/><use href="#b" x="90"/><use href="#b" x="120"/><use href="#b" x="150"/>
<use href="#o" x="240"/><use href="#o" x="270"/><use href="#o" x="330"/><use href="#o" x="360"/><use href="#o" x="390"/><use href="#o" x="480"/><use href="#o" x="510"/><use href="#o" x="570"/><use href="#o" x="600"/><use href="#o" x="630"/>
<use href="#b" x="720"/>
<text class="sg" y="76"><tspan x="239">125</tspan><tspan x="479">125</tspan><tspan x="719">125</tspan><tspan x="959">58</tspan></text>
<text class="sc" y="89.5"><tspan x="239">165281</tspan><tspan x="479">166031</tspan><tspan x="719">166781</tspan><tspan x="959">167129</tspan></text>
<text class="pc" y="102.5"><tspan x="239">0.00%</tspan><tspan x="479">0.00%</tspan><tspan x="719">0.00%</tspan><tspan x="959">0.00%</tspan></text>
</g>
</g>
</svg>
